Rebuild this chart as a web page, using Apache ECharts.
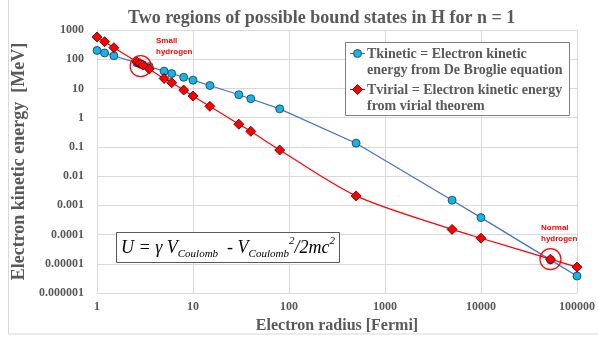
<!DOCTYPE html>
<html>
<head>
<meta charset="utf-8">
<script src="https://cdn.jsdelivr.net/npm/echarts@6/dist/echarts.min.js"></script>
<style>
  html, body { margin: 0; padding: 0; background: #fff; }
  #chart { width: 598px; height: 344px; }
</style>
</head>
<body>
<div id="chart"></div>
<script>
// electron radius [Fermi]
const radii = [1, 1.2, 1.5, 2.6, 2.8, 3.0, 3.5, 5, 6, 8, 10, 15, 30, 40, 80, 500, 5000, 10000, 52918, 100000];
// Tkinetic (De Broglie) [MeV]
const tKinetic = [200, 164, 131, 75, 70, 65, 56, 39, 32.4, 24.1, 19.2, 12.6, 6.1, 4.45, 2.0, 0.134, 0.0015, 0.00038, 0.0000136, 0.0000038];
// Tvirial [MeV]
const tVirial = [575, 398, 248, 82, 72, 63, 46, 22, 15.7, 8.8, 5.5, 2.44, 0.60, 0.34, 0.078, 0.0021, 0.00015, 0.000075, 0.0000144, 0.0000077];

const xTickLabels = ['1', '10', '100', '1000', '10000', '100000'];
const yTickLabels = ['0.000001', '0.00001', '0.0001', '0.001', '0.01', '0.1', '1', '10', '100', '1000'];

const serif = 'Liberation Serif';
const grey = '#595959';

const chart = echarts.init(document.getElementById('chart'));

const option = {
  animation: false,
  backgroundColor: '#fff',
  title: {
    text: 'Two regions of possible bound states in H for n = 1',
    left: 123,
    top: 4,
    textStyle: { fontFamily: serif, fontSize: 18, fontWeight: 'bold', color: grey }
  },
  grid: { left: 97, right: 19, top: 30, bottom: 51 },
  xAxis: {
    type: 'log',
    logBase: 10,
    min: 1,
    max: 100000,
    interval: 1,
    name: 'Electron radius [Fermi]',
    nameLocation: 'middle',
    nameGap: 24,
    nameTextStyle: { fontFamily: serif, fontSize: 16, fontWeight: 'bold', color: grey },
    axisLine: { lineStyle: { color: '#d9d9d9' } },
    axisTick: { show: false },
    splitLine: { show: true, lineStyle: { color: '#d9d9d9' } },
    axisLabel: {
      fontFamily: serif, fontSize: 12, fontWeight: 'bold', color: grey, margin: 8,
      formatter: v => xTickLabels[Math.round(Math.log10(v))]
    }
  },
  yAxis: {
    type: 'log',
    logBase: 10,
    min: 0.000001,
    max: 1000,
    interval: 1,
    name: 'Electron kinetic energy  [MeV]',
    nameLocation: 'middle',
    nameGap: 58,
    nameTextStyle: { fontFamily: serif, fontSize: 18, fontWeight: 'bold', color: grey },
    axisLine: { show: true, lineStyle: { color: '#d9d9d9' } },
    axisTick: { show: false },
    splitLine: { show: true, lineStyle: { color: '#d9d9d9' } },
    axisLabel: {
      fontFamily: serif, fontSize: 12, fontWeight: 'bold', color: grey, margin: 13,
      formatter: v => yTickLabels[Math.round(Math.log10(v)) + 6]
    }
  },
  series: [
    {
      name: 'Tkinetic',
      type: 'line',
      data: radii.map((r, i) => [r, tKinetic[i]]),
      symbol: 'circle',
      symbolSize: 8,
      lineStyle: { color: '#4472c4', width: 1.2 },
      itemStyle: { color: '#14b4e6', borderColor: '#1f3550', borderWidth: 0.8 },
      z: 2
    },
    {
      name: 'Tvirial',
      type: 'line',
      smooth: 0.3,
      data: radii.map((r, i) => [r, tVirial[i]]),
      symbol: 'diamond',
      symbolSize: 10,
      lineStyle: { color: '#ff0000', width: 1.2 },
      itemStyle: { color: '#ff0000', borderColor: '#3a0000', borderWidth: 0.8 },
      z: 3,
      markPoint: {
        symbol: 'circle',
        symbolSize: 21,
        silent: true,
        label: { show: false },
        itemStyle: { color: 'rgba(0,0,0,0)', borderColor: '#ff0000', borderWidth: 1.2 },
        data: [
          { coord: [2.85, 58] },
          { coord: [52918, 0.0000144] }
        ]
      }
    }
  ],
  graphic: [
    // outer chart border
    {
      type: 'rect',
      shape: { x: 8.5, y: -5, width: 600, height: 339 },
      style: { fill: 'none', stroke: '#d9d9d9', lineWidth: 1 },
      silent: true
    },
    // legend box
    {
      type: 'group',
      left: 345,
      top: 42,
      z: 100,
      children: [
        { type: 'rect', z: 100, shape: { x: 0.5, y: 0.5, width: 224, height: 73 },
          style: { fill: '#fff', stroke: '#808080', lineWidth: 1 } },
        { type: 'line', z: 101, shape: { x1: 5, y1: 11.5, x2: 20, y2: 11.5 },
          style: { stroke: '#4472c4', lineWidth: 1.2 } },
        { type: 'circle', z: 102, shape: { cx: 12.5, cy: 11.5, r: 4 },
          style: { fill: '#14b4e6', stroke: '#1f3550', lineWidth: 0.8 } },
        { type: 'text', z: 101, x: 22, y: 4,
          style: { text: 'Tkinetic = Electron kinetic\nenergy from De Broglie equation',
            font: 'bold 14px "Liberation Serif"', fill: grey, lineHeight: 16 } },
        { type: 'line', z: 101, shape: { x1: 5, y1: 47.5, x2: 20, y2: 47.5 },
          style: { stroke: '#ff0000', lineWidth: 1.2 } },
        { type: 'polygon', z: 102, shape: { points: [[12.5, 42.5], [17.5, 47.5], [12.5, 52.5], [7.5, 47.5]] },
          style: { fill: '#ff0000', stroke: '#3a0000', lineWidth: 0.8 } },
        { type: 'text', z: 101, x: 22, y: 40,
          style: { text: 'Tvirial = Electron kinetic energy\nfrom virial theorem',
            font: 'bold 14px "Liberation Serif"', fill: grey, lineHeight: 16 } }
      ]
    },
    // equation box
    {
      type: 'group',
      left: 116,
      top: 232,
      z: 100,
      children: [
        { type: 'rect', z: 100, shape: { x: 0.5, y: 0.5, width: 223, height: 30 },
          style: { fill: '#fff', stroke: '#595959', lineWidth: 1 } },
        { type: 'text', z: 101, x: 5, y: 4,
          style: {
            text: '{m|U = γ V}{s|Coulomb}{m|  - V}{s|Coulomb}{p|2}{m|/2mc}{p|2}',
            rich: {
              m: { fontFamily: serif, fontStyle: 'italic', fontSize: 18, lineHeight: 24, fill: '#000' },
              s: { fontFamily: serif, fontStyle: 'italic', fontSize: 11, lineHeight: 12, verticalAlign: 'bottom', fill: '#000' },
              p: { fontFamily: serif, fontStyle: 'italic', fontSize: 11, lineHeight: 12, verticalAlign: 'top', fill: '#000' }
            }
          } }
      ]
    },
    // annotations
    {
      type: 'text', left: 156, top: 35, z: 100,
      style: { text: 'Small\nhydrogen', font: 'bold 8px "Liberation Sans"', fill: '#ff0000', lineHeight: 11 }
    },
    {
      type: 'text', left: 541, top: 222, z: 100,
      style: { text: 'Normal\nhydrogen', font: 'bold 8px "Liberation Sans"', fill: '#ff0000', lineHeight: 11 }
    }
  ]
};

chart.setOption(option);
</script>
</body>
</html>
